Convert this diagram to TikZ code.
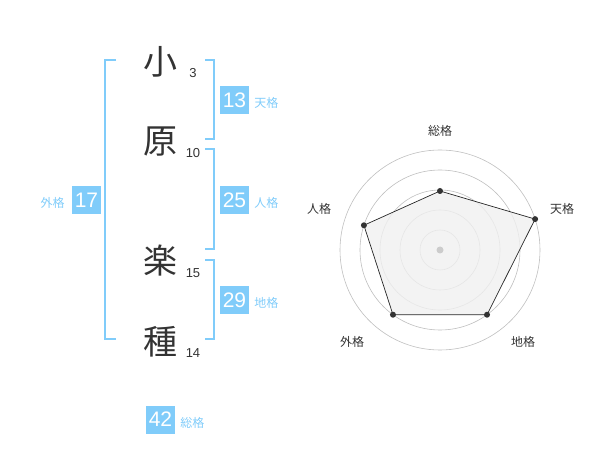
\documentclass[tikz,border=0pt]{standalone}
\usepackage{fontspec}
\setmainfont{Liberation Sans}
\newfontfamily\jp{Noto Sans CJK JP}
\usetikzlibrary{positioning}
\definecolor{kaku}{HTML}{80CCFA}

\begin{document}
\begin{tikzpicture}
                [
                    x=1pt,y=-1pt,
                    kanji/.style={font=\jp\fontsize{34}{34}\selectfont,text=black!80,inner sep=0},
                    strokes/.style={font=\fontsize{13}{13}\selectfont,text=black!80,inner sep=0},
                    numbox/.style={fill=kaku,text=white,minimum width=29pt,minimum height=28pt,inner sep=0,font=\fontsize{21}{21}\selectfont},
                    kakulabel/.style={text=kaku,font=\jp\fontsize{12}{12}\selectfont,inner sep=0,yshift=-3pt},
                    bracket/.style={draw=kaku,line width=2pt},
                    ring/.style={draw=black!25,line width=0.6pt},
                    vertex/.style={circle,fill=black!80,inner sep=0,minimum size=6pt},
                    axislabel/.style={font=\jp\fontsize{12}{12}\selectfont,text=black!80,inner sep=0},
                ]
                \useasboundingbox (0,0) rectangle (600,470);
                % name and stroke counts
                \node[kanji] (k1) at (160,62) {小};
                \node[kanji] (k2) at (160,142) {原};
                \node[kanji] (k3) at (160,261) {楽};
                \node[kanji] (k4) at (160,342) {種};
                \node[strokes] (s1) at (193,73.5) {3};
                \node[strokes] (s2) at (193,153.5) {10};
                \node[strokes] (s3) at (193,273.5) {15};
                \node[strokes] (s4) at (193,353.5) {14};
                % brackets
                \draw[bracket] (116,60) -| (105,339) -- (116,339);
                \draw[bracket] (205,60) -| (214,139) -- (205,139);
                \draw[bracket] (205,149) -| (214,249) -- (205,249);
                \draw[bracket] (205,260) -| (214,339) -- (205,339);
                % scores
                \node[numbox] (ten) at (234.5,100) {13};
                \node[kakulabel,right=5pt of ten] (tenl) {天格};
                \node[numbox] (jin) at (234.5,200) {25};
                \node[kakulabel,right=5pt of jin] (jinl) {人格};
                \node[numbox] (chi) at (234.5,300) {29};
                \node[kakulabel,right=5pt of chi] (chil) {地格};
                \node[numbox] (gai) at (86.5,200) {17};
                \node[kakulabel,left=7pt of gai] (gail) {外格};
                \node[numbox] (sou) at (160.5,419.5) {42};
                \node[kakulabel,right=5pt of sou] (soul) {総格};
                % radar
                \begin{scope}[shift={(440,250)}]
                    \foreach \r in {20,40,...,100}
                        \draw[ring] (0,0) circle[radius=\r pt];
                    \foreach \n/\a/\r in {psou/90/59,pten/18/100,pchi/-54/80,pgai/-126/80,pjin/162/80}
                        \coordinate (\n) at (\a:\r pt);
                    \fill[black!6,opacity=0.8] (psou) -- (pten) -- (pchi) -- (pgai) -- (pjin) -- cycle;
                    \draw[black!85,line width=0.7pt] (psou) -- (pten) -- (pchi) -- (pgai) -- (pjin) -- cycle;
                    \foreach \n in {psou,pten,pchi,pgai,pjin}
                        \node[vertex] at (\n) {};
                    \node[circle,fill=black!20,inner sep=0,minimum size=7pt] (hub) at (0,0) {};
                \end{scope}
                \node[axislabel] (asou) at (440,131) {総格};
                \node[axislabel] (aten) at (562,209) {天格};
                \node[axislabel] (ajin) at (319,209) {人格};
                \node[axislabel] (agai) at (352,342) {外格};
                \node[axislabel] (achi) at (523,342) {地格};
            \end{tikzpicture}
\end{document}
